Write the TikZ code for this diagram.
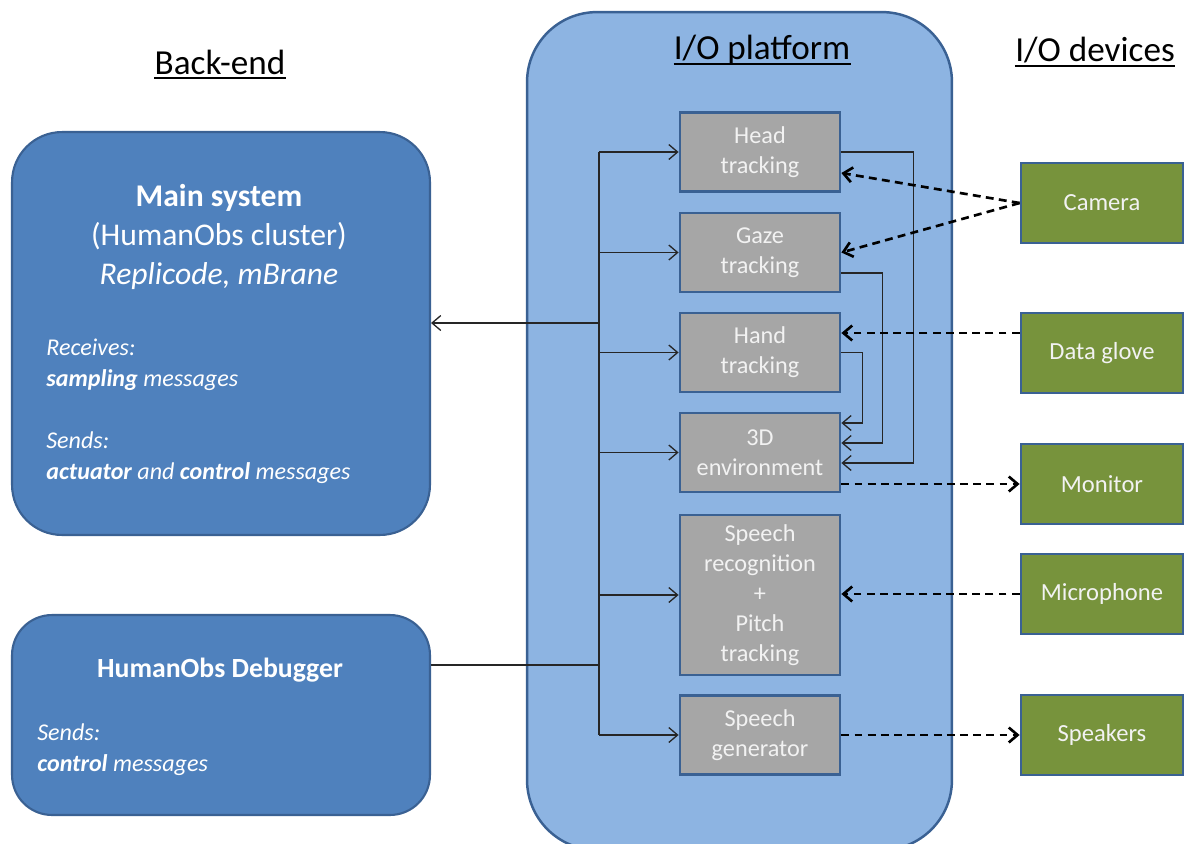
\documentclass[tikz,border=0pt]{standalone}
\usepackage{fontspec}
\setmainfont{Carlito}
\usepackage{tikz}
\usetikzlibrary{arrows.meta,calc,positioning}

\definecolor{frame}{HTML}{3A6193}
\definecolor{backblue}{HTML}{4F81BD}
\definecolor{platblue}{HTML}{8DB4E2}
\definecolor{modgrey}{HTML}{A6A6A6}
\definecolor{devgreen}{HTML}{77933C}
\definecolor{txtwhite}{HTML}{F2F2F2}

\begin{document}
\begin{tikzpicture}[x=0.02cm, y=-0.02cm,
  header/.style={inner sep=0pt, font=\fontsize{20}{24}\selectfont},
  backbox/.style={draw=frame, line width=1.2pt, fill=backblue, minimum width=8.36cm},
  msg/.style={text=white, align=left, anchor=west, inner sep=0pt, font=\fontsize{13.7}{17.6}\selectfont\itshape},
  module/.style={draw=frame, line width=1.6pt, fill=modgrey, text=txtwhite, align=center,
    minimum width=3.2cm, minimum height=1.58cm, font=\fontsize{13.8}{17}\selectfont},
  device/.style={draw=frame, line width=1.6pt, fill=devgreen, text=txtwhite,
    minimum width=3.24cm, minimum height=1.6cm, font=\fontsize{14}{17}\selectfont},
  sig/.style={draw=black!85, line width=0.75pt},
  link/.style={draw=black, line width=1.5pt, dash pattern=on 4.5pt off 3pt},
  >={Straight Barb[length=5pt,width=8.5pt]}]

  \useasboundingbox (0,0) rectangle (1188,843);
  \clip (0,0) rectangle (1188,843);

  % I/O platform container
  \node[draw=frame, line width=1.4pt, fill=platblue, rounded corners=1.4cm,
    minimum width=8.5cm, minimum height=16.76cm] (plat) at (739.5,431) {};

  % column titles, underlined
  \node[header] (hback) at (220,62) {Back-end};
  \node[header] (hplat) at (762,50) {I/O platform};
  \node[header] (hdev) at (1095,50) {I/O devices};
  \foreach \t in {hback,hplat,hdev}
    \draw[line width=1.1pt] ([yshift=-2.4pt]\t.base west) -- ([yshift=-2.4pt]\t.base east);

  % back-end
  \node[backbox, minimum height=8.06cm, rounded corners=1cm] (main) at (221,333.5) {};
  \node[text=white, align=center, font=\fontsize{18}{22}\selectfont] (maintitle) at (219,237)
    {\textbf{Main system}\\(HumanObs cluster)\\\textit{Replicode, mBrane}};
  \node[msg] (mainmsg) at (46,411)
    {Receives:\\\textbf{sampling} messages\\[17.6pt]Sends:\\\textbf{actuator} and \textbf{control} messages};

  \node[backbox, minimum height=4cm, rounded corners=0.8cm] (dbg) at (221,715) {};
  \node[text=white, font=\bfseries\fontsize{15.8}{19}\selectfont] (dbgtitle) at (220,670) {HumanObs Debugger};
  \node[msg] (dbgmsg) at (37,750) {Sends:\\\textbf{control} messages};

  % platform modules
  \node[module] (head) at (760,152) {Head\\tracking};
  \node[module] (gaze) at (760,252.5) {Gaze\\tracking};
  \node[module] (hand) at (760,352.5) {Hand\\tracking};
  \node[module] (env) at (760,452.5) {3D\\environment};
  \node[module, minimum height=3.2cm] (srec) at (760,595) {Speech\\recognition\\+\\Pitch\\tracking};
  \node[module] (sgen) at (760,735) {Speech\\generator};

  % devices
  \node[device] (camera) at (1102,203) {Camera};
  \node[device] (glove) at (1102,353) {Data glove};
  \node[device] (monitor) at (1102,484) {Monitor};
  \node[device] (mic) at (1102,594) {Microphone};
  \node[device] (speak) at (1102,735) {Speakers};

  % bus
  \coordinate (busx) at (599,0);
  \coordinate (tap) at (599,323);
  \coordinate (dtap) at (599,665);
  \draw[sig] (head.west -| busx) -- (sgen.west -| busx);
  \foreach \n in {head,gaze,hand,env,srec,sgen}
    \draw[sig,->] (\n.west -| busx) -- (\n.west);
  \draw[sig,->] (tap) -- (tap -| main.east);
  \draw[sig] (dbg.east |- dtap) -- (dtap);

  % tracking results into the 3D environment
  \draw[sig,->] (head.east) -- ++(72,0) |- ($(env.east)+(0,10.5)$);
  \draw[sig,->] ($(gaze.east)+(0,20.5)$) -- ++(41,0) |- ($(env.east)+(0,-9.5)$);
  \draw[sig,->] (hand.east) -- ++(21,0) |- ($(env.east)+(0,-29.5)$);

  % device links
  \draw[link,->] (camera.west) -- ($(head.east)+(0,21)$);
  \draw[link,->] (camera.west) -- (gaze.east);
  \draw[link,->] ($(glove.west)+(0,-20)$) coordinate (gl) -- (gl -| hand.east);
  \draw[link,->] (monitor.west -| env.east) -- (monitor.west);
  \draw[link,->] (mic.west) -- (mic.west -| srec.east);
  \draw[link,->] (sgen.east) -- (speak.west);
\end{tikzpicture}
\end{document}
